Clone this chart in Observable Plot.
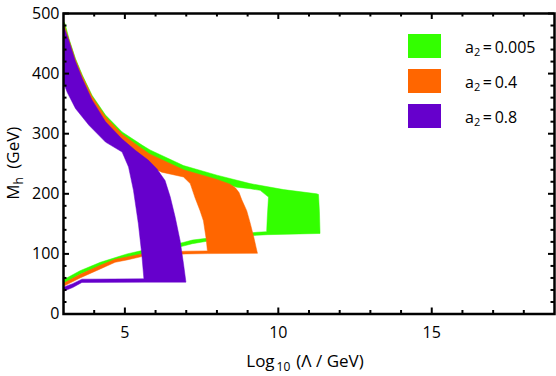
<!DOCTYPE html>
<html>
<head>
<meta charset="utf-8">
<script src="https://cdn.jsdelivr.net/npm/d3@7"></script>
<script src="https://cdn.jsdelivr.net/npm/@observablehq/plot@0.6"></script>
<style>
  body { margin: 0; background: #fff; }
  #wrap { position: relative; width: 556px; height: 376px; font-family: "Open Sans", sans-serif; color: #000; }
  .legend { position: absolute; left: 408px; top: 34px; }
  .row { display: flex; align-items: center; height: 24px; margin-bottom: 11px; }
  .sw { width: 33px; height: 24px; }
  .lab { margin-left: 24px; font-size: 16px; line-height: 16px; position: relative; top: 1px; }
  .lab sub { font-size: 11px; vertical-align: -3px; line-height: 0; }
</style>
</head>
<body>
<div id="wrap"></div>
<script>
// ---- data ----
const a2Values = ["0.005", "0.4", "0.8"];
const seriesColors = ["#33ff00", "#ff6600", "#6600cc"];

const xTicks = [5, 10, 15];
const xMinorTicks = [4, 6, 7, 8, 9, 11, 12, 13, 14, 16, 17, 18];
const yTicks = [0, 100, 200, 300, 400, 500];
const yMinorTicks = [20, 40, 60, 80, 120, 140, 160, 180, 220, 240, 260, 280, 320, 340, 360, 380, 420, 440, 460, 480];

// allowed region outlines: [log10(Lambda/GeV), M_h (GeV)]
const regionA2_0005 = [
  [3.0, 487], [3.05, 483], [3.18, 458], [3.39, 425], [3.61, 398], [3.93, 364], [4.37, 331], [4.91, 303],
  [5.56, 281], [5.82, 273], [6.91, 247], [8.0, 231], [9.08, 217], [10.17, 207], [11.25, 200], [11.31, 199],
  [11.34, 170], [11.36, 134],
  [9.65, 132], [9.3, 131], [8.5, 126], [7.67, 121], [7.2, 117], [6.9, 113], [6.2, 105], [5.55, 99.5],
  [5.07, 94], [4.2, 80], [3.54, 66], [3.0, 50],
  [3.0, 57], [3.54, 72], [4.2, 86], [5.07, 100], [5.55, 105.5], [6.2, 111], [6.9, 119], [7.2, 123],
  [7.67, 126], [8.5, 131], [9.3, 136], [9.62, 137],
  [9.64, 160], [9.68, 194.5], [9.41, 205.7], [9.08, 208.5], [8.65, 211],
  [8.0, 221], [7.0, 232], [6.0, 252], [5.0, 285], [4.37, 312], [3.9, 345], [3.4, 390], [3.0, 440]
];
const regionA2_04 = [
  [3.0, 485], [3.18, 456], [3.39, 423], [3.61, 396], [3.93, 362], [4.37, 328], [4.91, 299], [5.56, 275],
  [5.82, 266], [6.91, 240], [8.0, 224], [8.43, 216], [8.6, 210],
  [8.72, 202], [8.81, 190], [8.97, 172], [9.08, 152], [9.2, 128], [9.28, 110], [9.32, 101],
  [7.7, 100.5], [7.0, 100], [6.2, 98.5], [5.55, 95.5], [5.07, 90], [4.68, 86], [4.2, 75], [3.54, 60], [3.0, 46],
  [3.0, 51], [3.54, 66], [4.2, 81], [4.68, 91], [5.07, 95], [5.55, 100], [6.2, 103], [7.0, 104.5], [7.69, 105],
  [7.65, 125], [7.56, 155], [7.45, 172], [7.29, 193], [7.13, 217], [6.91, 228], [6.2, 236], [6.0, 241],
  [5.5, 260], [4.91, 280], [4.37, 298], [3.83, 325], [3.39, 355], [3.0, 400]
];
const regionA2_08 = [
  [3.0, 480], [3.18, 454], [3.39, 420], [3.61, 392], [3.93, 356], [4.37, 320], [4.91, 291], [5.35, 272],
  [5.77, 255.7], [6.04, 241.8], [6.31, 222], [6.48, 194.5], [6.64, 161], [6.8, 122], [6.91, 83.6], [6.99, 53],
  [5.65, 53], [3.6, 52.5], [3.3, 44], [3.0, 38],
  [3.0, 44.6], [3.3, 50.5], [3.6, 58], [5.62, 58.5],
  [5.55, 100], [5.44, 150], [5.28, 205.7], [5.12, 244.5], [4.91, 269.5],
  [4.37, 286], [3.83, 314], [3.39, 342], [3.12, 369], [3.0, 385]
];

const regions = [regionA2_0005, regionA2_04, regionA2_08];
const rows = regions.flatMap((pts, i) => pts.map(([x, y]) => ({x, y, a2: a2Values[i]})));

// ---- layout ----
const W = 556, H = 376, mL = 63, mR = 2, mT = 13, mB = 62.5;
const plotW = W - mL - mR, plotH = H - mT - mB;
const major = 6, minor = 3.5;

const chart = Plot.plot({
  width: W, height: H,
  marginLeft: mL, marginRight: mR, marginTop: mT, marginBottom: mB,
  style: {fontFamily: "Open Sans", fontSize: "16px", color: "#000", background: "#fff", overflow: "visible"},
  x: {domain: [3, 19]},
  y: {domain: [0, 500]},
  color: {domain: a2Values, range: seriesColors},
  marks: [
    Plot.line(rows, {x: "x", y: "y", z: "a2", fill: "a2", stroke: "a2", strokeWidth: 0.5, curve: "linear", clip: true}),
    Plot.ruleX(xTicks, {insetTop: plotH - major, stroke: "#000", strokeWidth: 2}),
    Plot.ruleX(xMinorTicks, {insetTop: plotH - minor, stroke: "#000", strokeWidth: 2}),
    Plot.ruleX(xTicks, {insetBottom: plotH - major, stroke: "#000", strokeWidth: 2}),
    Plot.ruleX(xMinorTicks, {insetBottom: plotH - minor, stroke: "#000", strokeWidth: 2}),
    Plot.ruleY(yTicks, {insetRight: plotW - major, stroke: "#000", strokeWidth: 2}),
    Plot.ruleY(yMinorTicks, {insetRight: plotW - minor, stroke: "#000", strokeWidth: 2}),
    Plot.ruleY(yTicks, {insetLeft: plotW - major, stroke: "#000", strokeWidth: 2}),
    Plot.ruleY(yMinorTicks, {insetLeft: plotW - minor, stroke: "#000", strokeWidth: 2}),
    Plot.frame({stroke: "#000", strokeWidth: 2.5}),
    Plot.axisX({ticks: xTicks, tickSize: 0, tickPadding: 13, label: null, fontSize: 16}),
    Plot.axisY({ticks: yTicks, tickSize: 0, tickPadding: 4, label: null, fontSize: 16})
  ]
});

const svg = d3.select(chart);
// x axis label
const xl = svg.append("text")
  .attr("x", 305).attr("y", 367)
  .attr("text-anchor", "middle")
  .attr("fill", "#000")
  .style("font-size", "17px");
xl.append("tspan").text("Log");
xl.append("tspan").attr("dx", 2).attr("dy", 4).style("font-size", "12px").text("10");
xl.append("tspan").attr("dx", 6).attr("dy", -4).text("(Λ / GeV)");
// y axis label
const yl = svg.append("text")
  .attr("transform", `translate(19,${mT + plotH / 2}) rotate(-90)`)
  .attr("text-anchor", "middle")
  .attr("fill", "#000")
  .style("font-size", "17px");
yl.append("tspan").text("M");
yl.append("tspan").attr("dy", 4).style("font-size", "12px").text("h");
yl.append("tspan").attr("dy", -4).text("\u2002(GeV)");

const wrap = document.getElementById("wrap");
wrap.appendChild(chart);

// legend
const legend = document.createElement("div");
legend.className = "legend";
a2Values.forEach((v, i) => {
  const row = document.createElement("div");
  row.className = "row";
  row.innerHTML = `<div class="sw" style="background:${seriesColors[i]}"></div><div class="lab">a<sub>2</sub>\u2009=\u20090${v.slice(1)}</div>`;
  legend.appendChild(row);
});
wrap.appendChild(legend);
</script>
</body>
</html>
